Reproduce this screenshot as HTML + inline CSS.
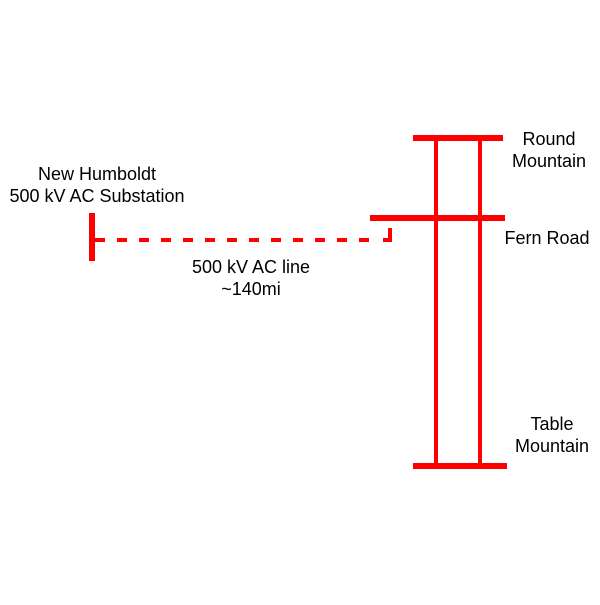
<!DOCTYPE html>
<html><head><style>body{margin:0;background:#fff}</style></head><body>
<svg width="600" height="600" xmlns="http://www.w3.org/2000/svg" font-family="Liberation Sans, sans-serif" font-size="18">
<rect width="600" height="600" fill="#fff"/>
<g stroke="#ff0000" fill="none">
<line x1="413" y1="138" x2="503" y2="138" stroke-width="6"/>
<line x1="370" y1="218" x2="505" y2="218" stroke-width="6"/>
<line x1="413" y1="466" x2="507" y2="466" stroke-width="6"/>
<line x1="436" y1="138" x2="436" y2="466" stroke-width="4"/>
<line x1="480" y1="138" x2="480" y2="466" stroke-width="4"/>
<line x1="92" y1="213" x2="92" y2="261" stroke-width="6"/>
<line x1="95" y1="240" x2="380" y2="240" stroke-width="4" stroke-dasharray="10,12"/>
<polyline points="383,240 390,240 390,228" stroke-width="4"/>
</g>
<g fill="#000" text-anchor="middle">
<text x="549" y="145">Round</text>
<text x="549" y="167">Mountain</text>
<text x="547" y="244">Fern Road</text>
<text x="552" y="430">Table</text>
<text x="552" y="452">Mountain</text>
<text x="97" y="180">New Humboldt</text>
<text x="97" y="202">500 kV AC Substation</text>
<text x="251" y="273">500 kV AC line</text>
<text x="251" y="295">~140mi</text>
</g>
</svg>
</body></html>
